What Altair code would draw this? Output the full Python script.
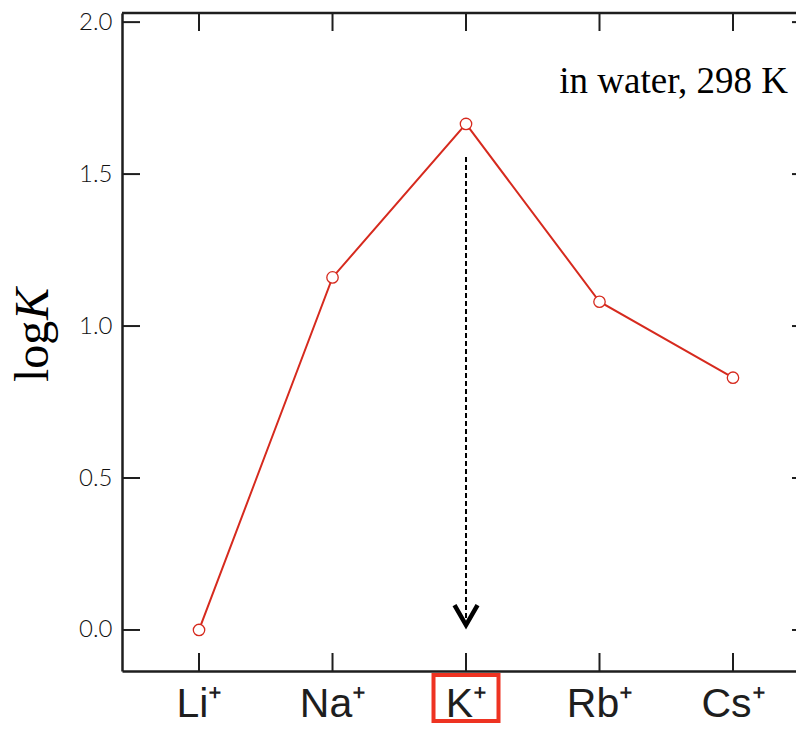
import altair as alt
import pandas as pd

# ---- data ----
ions = ["Li⁺", "Na⁺", "K⁺", "Rb⁺", "Cs⁺"]
logk = [0.0, 1.16, 1.665, 1.08, 0.83]
y_ticks = [0.0, 0.5, 1.0, 1.5, 2.0]
highlight = "K⁺"
arrow_from = 1.556
arrow_to = 0.03
arrow_tip = 0.016
note = "in water, 298 K"

# ---- tables ----
idx = list(range(len(ions)))
df = pd.DataFrame({"i": idx, "ion": ions, "logk": logk})
ydf = pd.DataFrame({"logk": y_ticks})
xdf = pd.DataFrame({"i": idx})
k_i = ions.index(highlight)
arrow_df = pd.DataFrame({"i": [k_i], "logk": [arrow_from], "y2": [arrow_to], "tip": [arrow_tip]})
note_df = pd.DataFrame({"t": [note]})
title_df = pd.DataFrame({"a": ["log"], "b": ["K"]})

W, H = 674, 658
RED = "#d62a1e"
DARK = "#1e1e1e"

xs = alt.Scale(domain=[-0.577, 4.472], nice=False, zero=False)
ys = alt.Scale(domain=[-0.135, 2.03], nice=False, zero=False)

label_expr = "[" + ",".join("'%s'" % s for s in ions) + "][datum.value]"

x_axis = alt.Axis(values=idx, labelExpr=label_expr, ticks=False, tickSize=0,
                  domain=True, domainColor=DARK, domainWidth=2.5,
                  labelFontSize=41, labelFont="Liberation Sans", labelColor=DARK,
                  labelBaseline="alphabetic", labelPadding=45, labelFlush=False,
                  labelOverlap=False, grid=False, title=None)
y_axis = alt.Axis(values=y_ticks, format=".1f", ticks=False, tickSize=0,
                  domain=True, domainColor=DARK, domainWidth=2.5,
                  labelFontSize=24, labelFont="Lato", labelFontWeight=300,
                  labelColor="#111111",
                  labelPadding=10, labelFlush=False, labelOverlap=False,
                  grid=False, title=None)

X = lambda f="i": alt.X(f"{f}:Q", scale=xs, axis=x_axis)
Y = lambda f="logk": alt.Y(f"{f}:Q", scale=ys, axis=y_axis)

line = alt.Chart(df).mark_line(color=RED, strokeWidth=2).encode(x=X(), y=Y())
pts = alt.Chart(df).mark_point(filled=True, fill="white", stroke=RED, strokeWidth=1.3,
                               size=130, opacity=1).encode(x=X(), y=Y())

# inward ticks on all four sides + top frame line
left_ticks = alt.Chart(ydf).mark_rule(color=DARK, strokeWidth=2).encode(
    y=Y(), x=alt.value(0), x2=alt.value(18))
right_ticks = alt.Chart(ydf).mark_rule(color=DARK, strokeWidth=2).encode(
    y=Y(), x=alt.value(W - 4), x2=alt.value(W))
top_ticks = alt.Chart(xdf).mark_rule(color=DARK, strokeWidth=2).encode(
    x=X(), y=alt.value(0), y2=alt.value(18))
bot_ticks = alt.Chart(xdf).mark_rule(color=DARK, strokeWidth=2).encode(
    x=X(), y=alt.value(H - 18), y2=alt.value(H))
top_line = alt.Chart(note_df).mark_rule(color=DARK, strokeWidth=2.5).encode(
    x=alt.value(0), x2=alt.value(W), y=alt.value(0))

# dashed arrow
arrow = alt.Chart(arrow_df).mark_rule(color="black", strokeWidth=2, strokeDash=[5, 3]).encode(
    x=X(), y=Y(), y2="y2:Q")
head = alt.Chart(arrow_df).mark_point(shape="M-1,-1.74L0,0L1,-1.74", size=529, filled=False,
                                      color="black", strokeWidth=4.5, opacity=1,
                                      strokeJoin="miter").encode(x=X(), y=Y("tip"))

# red box around the highlighted label
box = alt.Chart(arrow_df).mark_point(shape="M-1.413,-1L1.413,-1L1.413,1L-1.413,1Z", size=2116,
                                     filled=False, color="#ee3322", strokeWidth=4,
                                     opacity=1).encode(x=X(), y=alt.value(685))

note_t = alt.Chart(note_df).mark_text(font="Liberation Serif", fontSize=37, align="right",
                                      baseline="alphabetic", color="black").encode(
    text="t:N", x=alt.value(666), y=alt.value(80))

t_log = alt.Chart(title_df).mark_text(font="Liberation Serif", fontSize=48, align="left",
                                      baseline="alphabetic", angle=270, color="black").encode(
    text="a:N", x=alt.value(-74), y=alt.value(369))
t_k = alt.Chart(title_df).mark_text(font="Liberation Serif", fontSize=48, fontStyle="italic",
                                    align="left", baseline="alphabetic", angle=270,
                                    color="black").encode(
    text="b:N", x=alt.value(-74), y=alt.value(307))

chart = alt.layer(
    line, left_ticks, right_ticks, top_ticks, bot_ticks, top_line,
    arrow, head, pts, box, note_t, t_log, t_k
).properties(
    width=W, height=H, autosize="none",
    padding={"left": 114, "top": 5, "right": 0, "bottom": 53},
    background="white",
).configure_view(stroke=None)

chart.save("out.html", embed_options={"renderer": "svg", "actions": False})
